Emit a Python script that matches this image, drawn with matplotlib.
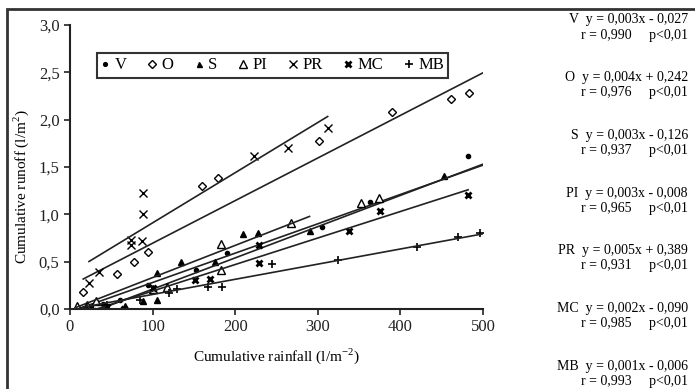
import numpy as np
import matplotlib.pyplot as plt
from matplotlib.patches import Rectangle

plt.rcParams['font.family'] = ['Liberation Serif', 'DejaVu Serif']
plt.rcParams['mathtext.fontset'] = 'custom'
plt.rcParams['mathtext.rm'] = 'Liberation Serif'

# cumulative rainfall (x) / cumulative runoff (y) per treatment
v_x = [10, 25, 40, 60, 95, 152, 190, 305, 363, 482]
v_y = [0.01, 0.03, 0.05, 0.10, 0.25, 0.41, 0.59, 0.87, 1.13, 1.62]
o_x = [16, 57, 77, 94, 160, 179, 301, 390, 461, 483]
o_y = [0.18, 0.37, 0.50, 0.60, 1.30, 1.38, 1.77, 2.08, 2.22, 2.28]
s_x = [67, 88, 105, 105, 135, 175, 209, 228, 290, 453]
s_y = [0.03, 0.08, 0.10, 0.38, 0.50, 0.50, 0.79, 0.80, 0.82, 1.41]
pi_x = [8, 20, 32, 101, 117, 183, 183, 268, 352, 374]
pi_y = [0.03, 0.04, 0.09, 0.21, 0.23, 0.41, 0.69, 0.91, 1.12, 1.17]
pr_x = [23, 35, 74, 74, 87, 89, 89, 223, 264, 312]
pr_y = [0.27, 0.39, 0.73, 0.68, 0.72, 1.00, 1.23, 1.62, 1.70, 1.91]
mc_x = [28, 45, 65, 100, 151, 169, 229, 229, 338, 375, 482]
mc_y = [-0.02, 0.02, 0.00, 0.22, 0.31, 0.32, 0.49, 0.68, 0.82, 1.04, 1.20]
mb_x = [20, 45, 85, 120, 129, 167, 184, 245, 325, 420, 470, 496]
mb_y = [0.02, 0.04, 0.10, 0.17, 0.21, 0.23, 0.23, 0.48, 0.52, 0.65, 0.76, 0.80]

names = ['V', 'O', 'S', 'PI', 'PR', 'MC', 'MB']
xs = [v_x, o_x, s_x, pi_x, pr_x, mc_x, mb_x]
ys = [v_y, o_y, s_y, pi_y, pr_y, mc_y, mb_y]

# fitted lines as drawn in the figure: slope, intercept, x range
slopes = [0.0031, 0.0045, 0.0033, 0.0034, 0.0053, 0.0028, 0.0016]
intercepts = [-0.03, 0.245, -0.12, -0.008, 0.38, -0.09, -0.006]
x_start = [10, 16, 30, 8, 23, 20, 15]
x_end = [500, 502, 500, 290, 312, 482, 500]

equations = ['y = 0,003x - 0,027', 'y = 0,004x + 0,242', 'y = 0,003x - 0,126',
             'y = 0,003x - 0,008', 'y = 0,005x + 0,389', 'y = 0,002x - 0,090',
             'y = 0,001x - 0,006']
r_vals = ['0,990', '0,976', '0,937', '0,965', '0,931', '0,985', '0,993']

styles = [
    dict(marker='o', ms=3, mfc='black', mec='black'),
    dict(marker='D', ms=4.5, mfc='white', mec='black', mew=1),
    dict(marker='^', ms=4, mfc='black', mec='black'),
    dict(marker='^', ms=6, mfc='white', mec='black', mew=1),
    dict(marker='x', ms=6, mec='black', mew=1),
    dict(marker='x', ms=5, mec='black', mew=2),
    dict(marker='+', ms=6, mec='black', mew=1.2),
]

fig = plt.figure(figsize=(6.95, 3.89), dpi=100)
ax = fig.add_axes([0.1007, 0.2056, 0.5942, 0.7301])

for name, x, y, st, m, b, x0, x1 in zip(names, xs, ys, styles, slopes, intercepts, x_start, x_end):
    ax.plot(x, y, ls='none', label=name, **st)
    lx = np.array([x0, x1])
    ax.plot(lx, m * lx + b, color='#222222', lw=1.2)

ax.set_xlim(0, 500)
ax.set_ylim(0, 3.0)
ax.set_xticks([0, 100, 200, 300, 400, 500])
ax.set_yticks([0, 0.5, 1.0, 1.5, 2.0, 2.5, 3.0])
ax.set_yticklabels(['0,0', '0,5', '1,0', '1,5', '2,0', '2,5', '3,0'])
ax.tick_params(labelsize=12, direction='out', length=4, width=1.2, colors='#222222')
for s in ['top', 'right']:
    ax.spines[s].set_visible(False)
for s in ['left', 'bottom']:
    ax.spines[s].set_linewidth(1.5)
    ax.spines[s].set_color('#222222')
ax.set_xlabel(r'Cumulative rainfall (l/m$^{-2}$)', fontsize=11, labelpad=8)
ax.set_ylabel(r'Cumulative runoff (l/m$^{2}$)', fontsize=11)
ax.yaxis.set_label_coords(-0.095, 0.43)

leg = ax.legend(ncol=7, loc='upper left', bbox_to_anchor=(0.045, 0.93), fontsize=12,
                frameon=True, fancybox=False, edgecolor='black', handlelength=0.5,
                handletextpad=0.3, columnspacing=1.3, borderpad=0.25, markerscale=0.9)
leg.get_frame().set_linewidth(1.5)

# equations column on the right
top = 20
step = 57.7
for i, (name, eq, r) in enumerate(zip(names, equations, r_vals)):
    yp = 1 - (top + i * step) / 389
    fig.text(688 / 695, yp, f'{name}  {eq}', ha='right', va='center', fontsize=10)
    fig.text(688 / 695, yp - 15 / 389, f'r = {r}     p<0,01', ha='right', va='center', fontsize=10)

# outer frame
fig.patches.append(Rectangle((7 / 695, -0.1), 1.2, 1 - 9 / 389 + 0.1, transform=fig.transFigure,
                             fill=False, edgecolor='#333333', lw=2))

fig.savefig('out.png', dpi=100)
